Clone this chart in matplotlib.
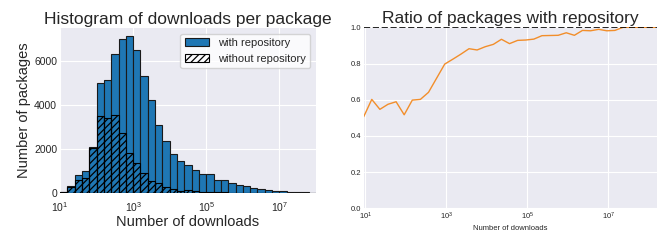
import matplotlib

matplotlib.use("Agg")
import matplotlib.pyplot as plt
import numpy as np

# histogram bins: 5 per decade from 10^1 to 10^8
bin_edges = np.logspace(1, 8, 36)

# counts per bin
with_repo = [
    45, 300, 805, 985, 2080, 5030, 5150, 6330, 7015, 7170,
    6515, 5335, 4240, 3105, 2350, 1790, 1470, 1260, 1060, 880,
    865, 610, 605, 455, 350, 335, 230, 185, 150, 110,
    90, 60, 45, 30, 20,
]
without_repo = [
    30, 270, 590, 690, 2040, 3490, 3430, 3580, 2740, 1840,
    1390, 930, 560, 445, 280, 185, 105, 125, 80, 65,
    60, 30, 30, 20, 10, 15, 5, 5, 2, 2,
    2, 0, 0, 0, 0,
]

# ratio curve (with / total)
ratio_exp = np.arange(0.96, 8.2, 0.2)
ratio = [
    0.506, 0.602, 0.547, 0.575, 0.589, 0.517, 0.598, 0.602, 0.641, 0.719,
    0.797, 0.824, 0.852, 0.882, 0.875, 0.893, 0.906, 0.934, 0.910, 0.928,
    0.930, 0.935, 0.954, 0.955, 0.956, 0.970, 0.956, 0.983, 0.981, 0.989,
    0.981, 0.983, 1.0, 1.0, 1.0, 1.0, 1.0,
]

plt.style.use("seaborn-v0_8-darkgrid")
plt.rcParams["font.family"] = ["Liberation Sans", "DejaVu Sans"]
plt.rcParams["hatch.linewidth"] = 0.9

fig = plt.figure(figsize=(6.64, 2.42), dpi=100)

# left: histogram
ax1 = fig.add_axes([0.0904, 0.2025, 0.3855, 0.682])
ax1.hist(
    bin_edges[:-1],
    bins=bin_edges,
    weights=with_repo,
    color="#1f77b4",
    edgecolor="#1a1a1a",
    linewidth=0.8,
    label="with repository",
)
ax1.hist(
    bin_edges[:-1],
    bins=bin_edges,
    weights=without_repo,
    facecolor="none",
    edgecolor="black",
    linewidth=0.8,
    hatch="/////",
    label="without repository",
)
ax1.set_xscale("log")
ax1.set_xlim(10, 1e8)
ax1.set_xticks([1e1, 1e3, 1e5, 1e7])
ax1.set_yticks([0, 2000, 4000, 6000])
ax1.tick_params(axis="y", labelsize=7.5, pad=2)
ax1.tick_params(axis="x", labelsize=7.5, pad=5)
ax1.set_title("Histogram of downloads per package", fontsize=12.5, pad=3)
ax1.set_xlabel("Number of downloads", fontsize=10.5, labelpad=1)
ax1.set_ylabel("Number of packages", fontsize=10.5, labelpad=2)
leg = ax1.legend(
    loc="upper right", fontsize=8, frameon=True, facecolor="white",
    framealpha=0.8, edgecolor="#cccccc", handlelength=2.2,
)

# right: ratio curve
ax2 = fig.add_axes([0.5477, 0.139, 0.4418, 0.748])
ratio_x = 10 ** ratio_exp
ax2.plot(ratio_x, ratio, color="#f28e2b", linewidth=1.0)
ax2.axhline(1.0, color="black", linestyle="--", linewidth=1.2)
ax2.set_xscale("log")
ax2.set_xlim(ratio_x[0], ratio_x[-1] * 10**0.04)
ax2.set_ylim(0, 1.0)
ax2.set_xticks([1e1, 1e3, 1e5, 1e7])
ax2.minorticks_off()
ax2.tick_params(labelsize=5.5, pad=2)
ax2.set_title("Ratio of packages with repository", fontsize=12.5, pad=3)
ax2.set_xlabel("Number of downloads", fontsize=5.5, labelpad=2)

fig.savefig("out.png", dpi=100)
